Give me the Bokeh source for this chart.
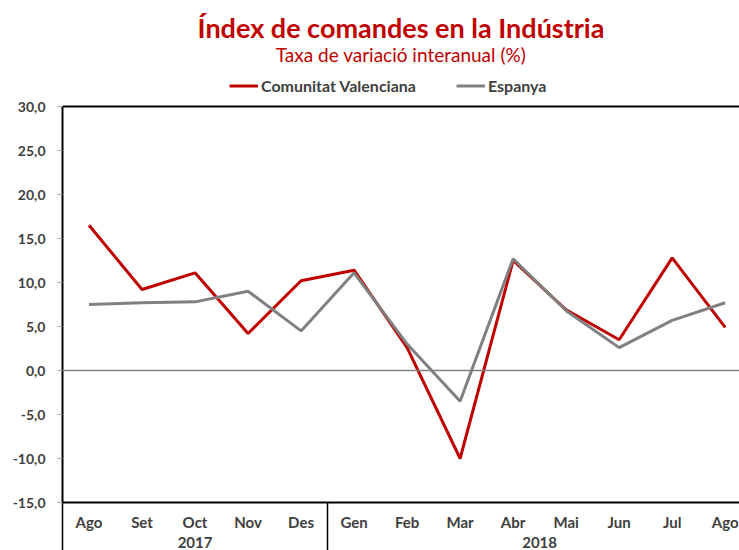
from bokeh.plotting import figure
from bokeh.models import (Range1d, FixedTicker, LinearAxis, CustomJSTickFormatter,
                          Span, Legend, LegendItem, Label)
from bokeh.embed import file_html
from bokeh.resources import INLINE

# ---- data ----
months = ["Ago", "Set", "Oct", "Nov", "Des", "Gen", "Feb", "Mar", "Abr", "Mai", "Jun", "Jul", "Ago"]
years = ["2017", "2018"]
year_counts = [5, 8]
cv = [16.5, 9.2, 11.1, 4.2, 10.2, 11.4, 2.6, -10.0, 12.5, 6.9, 3.5, 12.8, 4.9]
es = [7.5, 7.7, 7.8, 9.0, 4.5, 11.1, 3.0, -3.5, 12.7, 6.8, 2.6, 5.7, 7.7]
y_ticks = [-15, -10, -5, 0, 5, 10, 15, 20, 25, 30]
y_min, y_max = -15, 30
title_text = "Índex de comandes en la Indústria"
subtitle_text = "Taxa de variació interanual (%)"

x = list(range(len(months)))

year_centers = []
separators = [-0.5]
start = 0
for c in year_counts:
    year_centers.append(start + (c - 1) / 2)
    start += c
    separators.append(start - 0.5)

RED = "#C00000"
GRAY = "#808080"
TXT = "#404040"
FONT = "Lato"

# layout (pixels): plot box top at 106, bottom at 502 -> 8.8 px per unit
PX = 396 / (y_max - y_min)
x_start, x_end = -0.5, 12.27
y_top = y_max + 106 / PX          # frame reaches the top of the canvas

p = figure(width=739, height=550, title=None,
           x_range=Range1d(x_start, x_end), y_range=Range1d(y_min, y_top),
           output_backend="svg", toolbar_location=None,
           x_axis_type=None, y_axis_type=None,
           min_border_left=62, min_border_right=0, min_border_top=0, min_border_bottom=48,
           outline_line_color=None, background_fill_color="white")

yaxis = LinearAxis(ticker=FixedTicker(ticks=y_ticks), bounds=(y_min, y_max),
                   formatter=CustomJSTickFormatter(code="return tick.toFixed(1).replace('.', ',');"),
                   axis_line_color="black", axis_line_width=2,
                   major_tick_out=5, major_tick_in=0, major_tick_line_color="#a6a6a6",
                   minor_tick_line_color=None,
                   major_label_text_font=FONT, major_label_text_font_style="bold",
                   major_label_text_font_size="14px", major_label_text_color=TXT,
                   major_label_standoff=12)
p.add_layout(yaxis, "left")

xaxis = LinearAxis(ticker=FixedTicker(ticks=x, minor_ticks=separators),
                   formatter=CustomJSTickFormatter(args=dict(labels=months),
                                                   code="return labels[Math.round(tick)] || '';"),
                   axis_line_color="black", axis_line_width=2,
                   major_tick_out=0, major_tick_in=0, major_tick_line_color=None,
                   minor_tick_out=48, minor_tick_in=0, minor_tick_line_color="black",
                   minor_tick_line_width=1.5,
                   major_label_text_font=FONT, major_label_text_font_style="bold",
                   major_label_text_font_size="15px", major_label_text_color=TXT,
                   major_label_standoff=-38)
p.add_layout(xaxis, "below")

yearaxis = LinearAxis(ticker=FixedTicker(ticks=year_centers),
                      formatter=CustomJSTickFormatter(args=dict(labels=years, pos=year_centers),
                                                      code="const i = pos.indexOf(tick); return i >= 0 ? labels[i] : '';"),
                      axis_line_color=None, major_tick_line_color=None, minor_tick_line_color=None,
                      major_tick_out=0, major_tick_in=0,
                      major_label_text_font=FONT, major_label_text_font_style="bold",
                      major_label_text_font_size="15px", major_label_text_color=TXT,
                      major_label_standoff=3)
p.add_layout(yearaxis, "below")

p.add_layout(Span(location=y_max, dimension="width", line_color="black", line_width=2))
p.add_layout(Span(location=0, dimension="width", line_color=GRAY, line_width=1.5))

r1 = p.line(x, cv, line_color=RED, line_width=3)
r2 = p.line(x, es, line_color=GRAY, line_width=3)

legend = Legend(items=[LegendItem(label="Comunitat Valenciana", renderers=[r1]),
                       LegendItem(label="Espanya", renderers=[r2])],
                orientation="horizontal", location=(167, 407),
                border_line_color=None, background_fill_alpha=0,
                label_text_font=FONT, label_text_font_style="bold",
                label_text_font_size="16px", label_text_color=TXT,
                glyph_width=29, glyph_height=19, label_standoff=3, spacing=40,
                padding=0, margin=0)
p.add_layout(legend, "center")

xc = (x_start + x_end) / 2
p.add_layout(Label(x=xc, y=y_max + (106 - 27) / PX, text=title_text,
                   text_align="center", text_baseline="middle",
                   text_font=FONT, text_font_size="27px", text_font_style="bold",
                   text_color=RED))
p.add_layout(Label(x=xc, y=y_max + (106 - 54) / PX, text=subtitle_text,
                   text_align="center", text_baseline="middle",
                   text_font=FONT, text_font_size="19px", text_font_style="normal",
                   text_color=RED))

open("out.html", "w").write(file_html(p, INLINE))
